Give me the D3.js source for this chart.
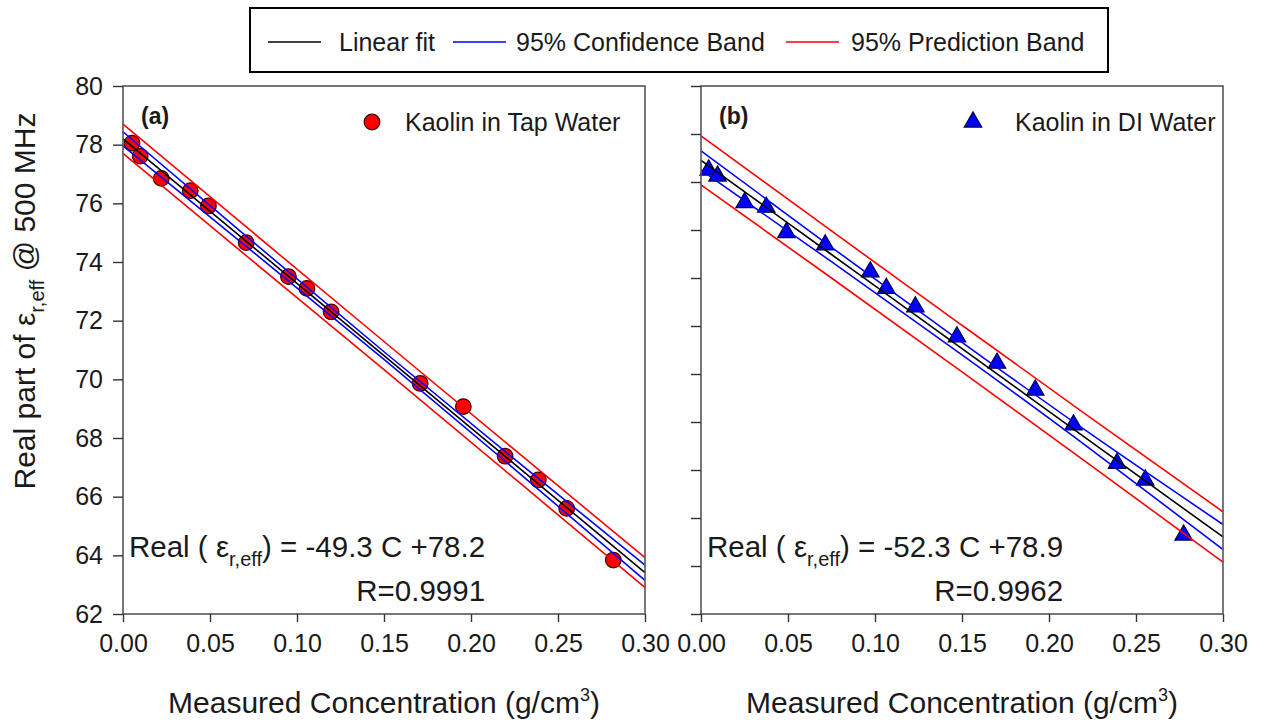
<!DOCTYPE html>
<html>
<head>
<meta charset="utf-8">
<script src="https://cdn.jsdelivr.net/npm/d3@7"></script>
<style>
  html, body { margin: 0; padding: 0; background: #fff; }
  svg { display: block; font-family: "Liberation Sans", Arial, sans-serif; }
</style>
</head>
<body>
<svg id="chart" width="1264" height="724"></svg>
<script>
// ---------------- DATA ----------------
// Panel (a): Kaolin in Tap Water
const tapX = [0.0052, 0.0099, 0.0220, 0.0387, 0.0491, 0.0708, 0.0951, 0.1057, 0.1196,
              0.1708, 0.1956, 0.2196, 0.2387, 0.2550, 0.2818];
const tapY = [78.05, 77.61, 76.85, 76.43, 75.91, 74.66, 73.50, 73.10, 72.30,
              69.86, 69.07, 67.38, 66.57, 65.60, 63.84];
// Panel (b): Kaolin in DI Water
const diX = [0.0044, 0.0095, 0.0251, 0.0375, 0.0491, 0.0714, 0.0973, 0.1065, 0.1232,
             0.1471, 0.1701, 0.1921, 0.2141, 0.2391, 0.2553, 0.2774];
const diY = [78.50, 78.25, 77.14, 76.95, 75.89, 75.38, 74.26, 73.57, 72.80,
             71.55, 70.45, 69.33, 67.88, 66.28, 65.58, 63.29];

// Fit lines and bands at these concentrations
const bandX = [0, 0.075, 0.15, 0.225, 0.30];
const tapFit     = [78.20, 74.50, 70.81, 67.11, 63.41];
const tapCIUpper = [78.44, 74.67, 70.94, 67.28, 63.67];
const tapCILower = [77.96, 74.33, 70.68, 66.94, 63.15];
const tapPIUpper = [78.70, 74.99, 71.29, 67.60, 63.92];
const tapPILower = [77.70, 74.01, 70.33, 66.62, 62.90];

const diFit     = [78.90, 74.98, 71.06, 67.13, 63.21];
const diCIUpper = [79.30, 75.28, 71.32, 67.45, 63.73];
const diCILower = [78.50, 74.68, 70.80, 66.81, 62.69];
const diPIUpper = [79.92, 75.96, 72.03, 68.12, 64.26];
const diPILower = [77.88, 74.00, 70.09, 66.14, 62.16];

// Axes ticks
const xTicks = [0.00, 0.05, 0.10, 0.15, 0.20, 0.25, 0.30];
const yTicksA = [62, 64, 66, 68, 70, 72, 74, 76, 78, 80];
const yTicksB = [60, 62, 64, 66, 68, 70, 72, 74, 76, 78, 80, 82];

const legendLabels = ["Linear fit", "95% Confidence Band", "95% Prediction Band"];
const legendColors = ["#000000", "#0000ff", "#ff0000"];

// ---------------- DRAWING ----------------
const svg = d3.select("#chart");
const FONT = "\"Liberation Sans\", Arial, sans-serif";
const textCol = "#1a1a1a";

const plotTop = 86, plotBottom = 614;

function panel(opts) {
  const g = svg.append("g");
  const x = d3.scaleLinear().domain([0, 0.30]).range([opts.x0, opts.x1]);
  const y = d3.scaleLinear().domain(opts.yDomain).range([plotBottom, plotTop]);

  // markers first (lines are drawn over them in the original)
  const pts = opts.xs.map((v, i) => [v, opts.ys[i]]);
  if (opts.marker === "circle") {
    g.selectAll("circle.pt").data(pts).enter().append("circle")
      .attr("class", "pt")
      .attr("cx", d => x(d[0])).attr("cy", d => y(d[1]))
      .attr("r", 7.8)
      .attr("fill", "#ff0000").attr("stroke", "#3a0000").attr("stroke-width", 1.2);
  } else {
    const tri = d3.symbol().type(d3.symbolTriangle).size(132);
    g.selectAll("path.pt").data(pts).enter().append("path")
      .attr("class", "pt")
      .attr("d", tri)
      .attr("transform", d => `translate(${x(d[0])},${y(d[1])})`)
      .attr("fill", "#0000ff").attr("stroke", "#00003a").attr("stroke-width", 1.2);
  }

  // fit & bands
  const line = d3.line().x(d => x(d[0])).y(d => y(d[1])).curve(d3.curveNatural);
  const series = [
    [opts.piU, "#ff0000"], [opts.piL, "#ff0000"],
    [opts.ciU, "#0000ff"], [opts.ciL, "#0000ff"],
    [opts.fit, "#000000"]
  ];
  series.forEach(([vals, col]) => {
    g.append("path")
      .attr("d", line(bandX.map((v, i) => [v, vals[i]])))
      .attr("fill", "none").attr("stroke", col).attr("stroke-width", 1.6);
  });

  // frame
  g.append("rect")
    .attr("x", opts.x0).attr("y", plotTop)
    .attr("width", opts.x1 - opts.x0).attr("height", plotBottom - plotTop)
    .attr("fill", "none").attr("stroke", "#555").attr("stroke-width", 1.6);

  // bottom axis
  const xa = g.append("g").attr("transform", `translate(0,${plotBottom})`)
    .call(d3.axisBottom(x).tickValues(xTicks).tickFormat(d3.format(".2f"))
      .tickSize(8).tickPadding(12));
  xa.select(".domain").remove();
  xa.selectAll("line").attr("stroke", "#333").attr("stroke-width", 1.4);
  xa.selectAll("text").attr("font-size", 25).attr("font-family", FONT).attr("fill", textCol);

  // left axis
  const ya = g.append("g").attr("transform", `translate(${opts.x0},0)`)
    .call(d3.axisLeft(y).tickValues(opts.yTicks).tickSize(10).tickPadding(10)
      .tickFormat(opts.yLabels ? d3.format("d") : () => ""));
  ya.select(".domain").remove();
  ya.selectAll("line").attr("stroke", "#333").attr("stroke-width", 1.4);
  ya.selectAll("text").attr("font-size", 25).attr("font-family", FONT).attr("fill", textCol);

  // panel label
  g.append("text").attr("x", opts.x0 + 18).attr("y", 124)
    .attr("font-size", 23).attr("font-weight", "bold").attr("fill", textCol)
    .text(opts.tag);

  // in-panel legend
  if (opts.marker === "circle") {
    g.append("circle").attr("cx", opts.legX).attr("cy", 122).attr("r", 7.8)
      .attr("fill", "#ff0000").attr("stroke", "#3a0000").attr("stroke-width", 1.2);
  } else {
    g.append("path").attr("d", d3.symbol().type(d3.symbolTriangle).size(132))
      .attr("transform", `translate(${opts.legX},122)`)
      .attr("fill", "#0000ff").attr("stroke", "#00003a").attr("stroke-width", 1.2);
  }
  g.append("text").attr("x", opts.legTextX).attr("y", 131)
    .attr("font-size", 25).attr("fill", textCol).text(opts.legText);

  // equation
  const eq = g.append("text").attr("x", opts.x0 + 6).attr("y", 557)
    .attr("font-size", 29.5).attr("fill", textCol);
  eq.append("tspan").text("Real ( \u03b5");
  eq.append("tspan").attr("font-size", 20).attr("dy", 9).text("r,eff");
  eq.append("tspan").attr("dy", -9).text(opts.eqRest);
  const eqW = eq.node().getComputedTextLength();
  g.append("text").attr("x", opts.x0 + 6 + eqW).attr("y", 601)
    .attr("text-anchor", "end").attr("font-size", 29.5).attr("fill", textCol)
    .text(opts.rText);

  // x title
  const xt = g.append("text").attr("x", (opts.x0 + opts.x1) / 2).attr("y", 713)
    .attr("text-anchor", "middle").attr("font-size", 30).attr("fill", textCol);
  xt.append("tspan").text("Measured Concentration (g/cm");
  xt.append("tspan").attr("font-size", 18).attr("dy", -12).text("3");
  xt.append("tspan").attr("dy", 12).text(")");
}

panel({
  x0: 123, x1: 645, yDomain: [62, 80], yTicks: yTicksA, yLabels: true,
  xs: tapX, ys: tapY, marker: "circle",
  fit: tapFit, ciU: tapCIUpper, ciL: tapCILower, piU: tapPIUpper, piL: tapPILower,
  tag: "(a)", legX: 372, legTextX: 405, legText: "Kaolin in Tap Water",
  eqRest: ") = -49.3 C +78.2", rText: "R=0.9991"
});
panel({
  x0: 701, x1: 1223, yDomain: [60, 82], yTicks: yTicksB, yLabels: false,
  xs: diX, ys: diY, marker: "triangle",
  fit: diFit, ciU: diCIUpper, ciL: diCILower, piU: diPIUpper, piL: diPILower,
  tag: "(b)", legX: 973, legTextX: 1015, legText: "Kaolin in DI Water",
  eqRest: ") = -52.3 C +78.9", rText: "R=0.9962"
});

// y title
const yt = svg.append("text")
  .attr("transform", "translate(35,301) rotate(-90)")
  .attr("text-anchor", "middle").attr("font-size", 30).attr("fill", textCol);
yt.append("tspan").text("Real part of \u03b5");
yt.append("tspan").attr("font-size", 20).attr("dy", 9).text("r,eff");
yt.append("tspan").attr("dy", -9).text(" @ 500 MHz");

// top legend
const lg = svg.append("g");
lg.append("rect").attr("x", 250).attr("y", 8).attr("width", 858).attr("height", 64)
  .attr("fill", "#fff").attr("stroke", "#000").attr("stroke-width", 2);
const legLineX = [268, 453, 786];
const legTextX = [339, 516, 851];
legendLabels.forEach((lab, i) => {
  lg.append("line").attr("x1", legLineX[i]).attr("x2", legLineX[i] + 53)
    .attr("y1", 42).attr("y2", 42)
    .attr("stroke", legendColors[i]).attr("stroke-width", 1.6);
  lg.append("text").attr("x", legTextX[i]).attr("y", 51)
    .attr("font-size", 25).attr("fill", textCol).text(lab);
});
</script>
</body>
</html>
